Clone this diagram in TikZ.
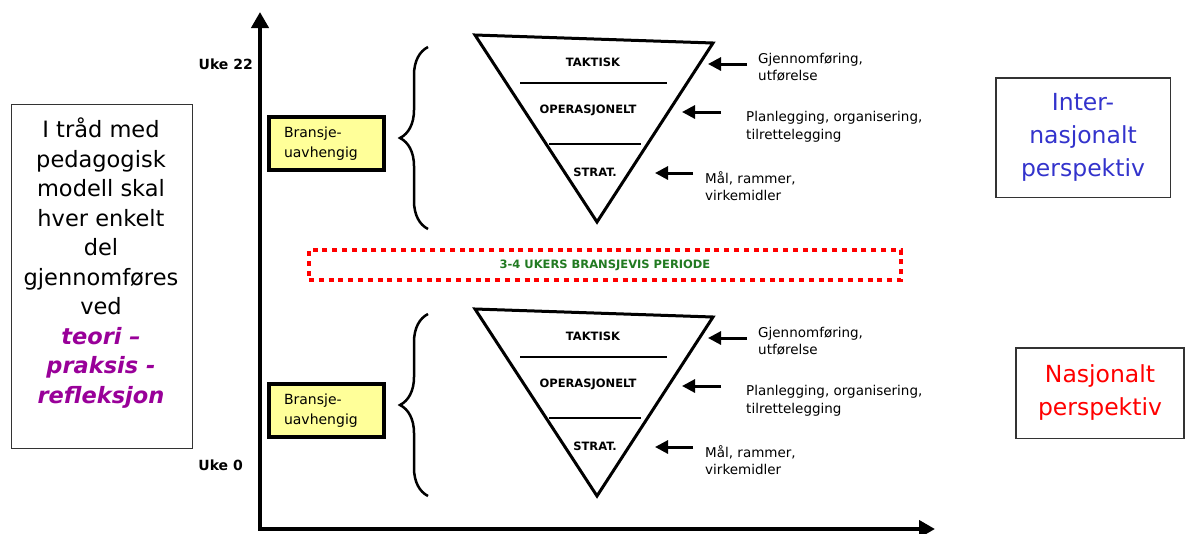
\documentclass[tikz,border=0pt]{standalone}
\usepackage{fontspec}
\setmainfont{DejaVu Sans}
\usetikzlibrary{arrows.meta,decorations.pathreplacing}

\definecolor{pedag}{HTML}{990099}
\definecolor{intblue}{HTML}{3333CC}
\definecolor{pergreen}{HTML}{217A21}
\definecolor{yellowbox}{HTML}{FFFF99}

\tikzset{
  axis/.style={line width=4pt, {Triangle[length=16pt,width=17pt]}-{Triangle[length=16pt,width=17pt]}},
  lvl/.style={font=\bfseries\fontsize{11.5}{13}\selectfont},
  note/.style={anchor=west, align=left, inner xsep=0pt, font=\fontsize{13.5}{17.5}\selectfont},
  arr/.style={line width=3pt, -{Triangle[length=13pt,width=13pt]}},
  ybox/.style={draw, line width=4pt, fill=yellowbox, minimum width=115pt, minimum height=53pt,
    text width=85pt, inner xsep=15pt, align=left, font=\fontsize{14}{20}\selectfont},
  pbox/.style={draw=black!80, line width=1.5pt, align=center, font=\fontsize{23.5}{33}\selectfont},
  trig/.style={line width=3pt},
  sep/.style={line width=1.2pt},
  brc/.style={decorate, decoration={brace, amplitude=28pt}, line width=2.5pt},
  week/.style={anchor=east, inner xsep=0pt, font=\bfseries\fontsize{14}{16}\selectfont}
}

\begin{document}
\begin{tikzpicture}[x=1pt,y=-1pt]
\useasboundingbox (0,0) rectangle (1185,533);

% left text box
\node[draw=black!80, line width=1.2pt, minimum width=181pt, minimum height=344pt] (modelbox) at (102,276.5) {};
\node[align=center, font=\fontsize{22.5}{29.5}\selectfont] (modeltxt) at (101,263)
  {I tråd med\\pedagogisk\\modell skal\\hver enkelt\\del\\gjennomføres\\ved\\
   {\color{pedag}\bfseries\itshape teori –}\\
   {\color{pedag}\bfseries\itshape praksis -}\\
   {\color{pedag}\bfseries\itshape refleksjon}};

% axes
\draw[axis] (260,12) -- (260,529) -- (935,529);
\node[week] (uke22) at (253,64) {Uke 22};
\node[week] (uke0) at (243,465) {Uke 0};

% upper part
\node[ybox] (bransje1) at (326.5,143.5) {Bransje-\\uavhengig};
\draw[brc] (428,229) -- (428,47);
\draw[trig] (475,35) -- (713,43) -- (597,222) -- cycle;
\draw[sep] (520,83) -- (667,83);
\draw[sep] (549,144) -- (641,144);
\node[lvl] (takt1) at (593,62) {TAKTISK};
\node[lvl] (oper1) at (588,110) {OPERASJONELT};
\node[lvl] (strat1) at (595,172) {STRAT.};

\node[note] (gj1) at (758,67) {Gjennomføring,\\utførelse};
\node[note] (pl1) at (746,127) {Planlegging, organisering,\\tilrettelegging};
\node[note] (ml1) at (705,186) {Mål, rammer,\\virkemidler};
\coordinate (gj1t) at (708,64);
\coordinate (pl1t) at (682,112);
\coordinate (ml1t) at (655,173);
\draw[arr] ([shift={(-11,-3)}]gj1.west) -- (gj1t);
\draw[arr] ([shift={(-25,-15)}]pl1.west) -- (pl1t);
\draw[arr] ([shift={(-12,-13)}]ml1.west) -- (ml1t);

\node[pbox, text=intblue, minimum width=174.5pt, minimum height=119.5pt] (internat) at (1083,137.5)
  {Inter-\\nasjonalt\\perspektiv};

% period between
\node[draw=red, line width=4pt, dash pattern=on 5pt off 4.8pt, minimum width=592pt, minimum height=30pt,
  text=pergreen, font=\bfseries\fontsize{11.5}{13}\selectfont] (periode) at (605,265)
  {3-4 UKERS BRANSJEVIS PERIODE};

% lower part
\node[ybox] (bransje2) at (326.5,410.5) {Bransje-\\uavhengig};
\draw[brc] (428,496) -- (428,314);
\draw[trig] (475,309) -- (713,317) -- (597,496) -- cycle;
\draw[sep] (520,357) -- (667,357);
\draw[sep] (549,418) -- (641,418);
\node[lvl] (takt2) at (593,336) {TAKTISK};
\node[lvl] (oper2) at (588,384) {OPERASJONELT};
\node[lvl] (strat2) at (595,446) {STRAT.};

\node[note] (gj2) at (758,341) {Gjennomføring,\\utførelse};
\node[note] (pl2) at (746,401) {Planlegging, organisering,\\tilrettelegging};
\node[note] (ml2) at (705,460) {Mål, rammer,\\virkemidler};
\coordinate (gj2t) at (708,338);
\coordinate (pl2t) at (682,386);
\coordinate (ml2t) at (655,447);
\draw[arr] ([shift={(-11,-3)}]gj2.west) -- (gj2t);
\draw[arr] ([shift={(-25,-15)}]pl2.west) -- (pl2t);
\draw[arr] ([shift={(-12,-13)}]ml2.west) -- (ml2t);

\node[pbox, text=red, minimum width=168pt, minimum height=90.5pt] (nasjonal) at (1100,393)
  {Nasjonalt\\perspektiv};

\end{tikzpicture}
\end{document}
